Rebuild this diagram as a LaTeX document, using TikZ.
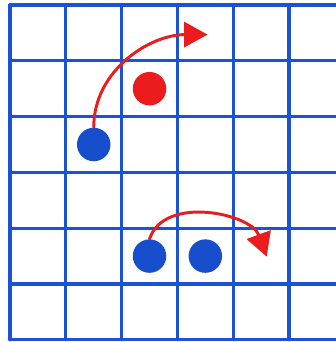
\documentclass[tikz,border=0pt]{standalone}
\usetikzlibrary{arrows.meta}
\definecolor{gridblue}{RGB}{28,82,212}
\definecolor{dotblue}{RGB}{22,78,204}
\definecolor{movered}{RGB}{236,28,30}
\tikzset{gridline/.style={draw=gridblue,line width=1.6pt,line cap=round}}
\tikzset{dot/.style={circle,fill=#1,minimum size=0.6cm,inner sep=0pt}}
\tikzset{move/.style={draw=movered,line width=1.5pt,line cap=round,-{Triangle[length=0.42cm,width=0.45cm]}}}

\begin{document}
\begin{tikzpicture}
	\newcommand\cells{6} %number of cells on a side
	\useasboundingbox (-0.18,-0.04) rectangle (5.84,6.09);
	\clip (-0.18,-0.04) rectangle (5.84,6.09);
	\fill[white] (-0.18,-0.04) rectangle (5.84,6.09);
	%% the grid
	\foreach \i in {0,...,\cells} {
		\draw[gridline] (\i,0) -- (\i,\cells);
		\draw[gridline] (0,\i) -- (\cells,\i);
	}
	%% the pieces
	\node[dot=dotblue] (b1) at (1.5,3.5) {};
	\node[dot=movered] (r1) at (2.5,4.5) {};
	\node[dot=dotblue] (b2) at (2.5,1.5) {};
	\node[dot=dotblue] (b3) at (3.5,1.5) {};
	\coordinate (t1) at (3.54,5.47); %% t1 is the tip of the upper move
	\coordinate (t2) at (4.60,1.49); %% t2 is the tip of the lower move
	%% the moves
	\draw[move] (b1.north) to[out=90,in=180] (t1);
	\draw[move] (b2.north) to[out=72,in=110] (t2);
\end{tikzpicture}
\end{document}
